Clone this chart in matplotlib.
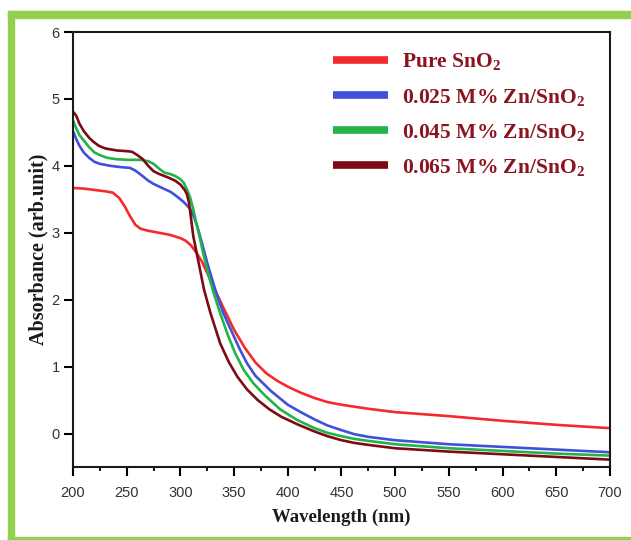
import matplotlib

matplotlib.use("Agg")
import matplotlib.pyplot as plt
from matplotlib.lines import Line2D
from matplotlib.patches import Rectangle
from matplotlib.ticker import MultipleLocator


# UV-vis absorbance spectra of pure and Zn-doped SnO2
wl_pure = [200, 210, 220, 230, 237, 243, 248, 253, 258, 263, 270, 280, 290, 300,
           305, 310, 315, 320, 325, 330, 340, 350, 360, 370, 380, 390, 400, 412,
           425, 437, 450, 475, 500, 550, 600, 650, 700]
abs_pure = [3.67, 3.66, 3.64, 3.62, 3.60, 3.52, 3.40, 3.25, 3.12, 3.06, 3.03, 3.00,
            2.97, 2.92, 2.88, 2.81, 2.70, 2.57, 2.40, 2.22, 1.88, 1.55, 1.28, 1.06,
            0.90, 0.79, 0.70, 0.61, 0.53, 0.47, 0.43, 0.37, 0.32, 0.26, 0.19, 0.13,
            0.08]

wl_025 = [200, 203, 206, 210, 215, 220, 225, 235, 245, 253, 258, 263, 270, 275,
          283, 291, 297, 303, 309, 313, 316, 320, 325, 330, 335, 340, 347, 355,
          362, 370, 384, 400, 412, 425, 437, 450, 462, 475, 500, 550, 600, 650, 700]
abs_025 = [4.52, 4.40, 4.30, 4.20, 4.12, 4.06, 4.03, 4.00, 3.98, 3.97, 3.93, 3.87,
           3.78, 3.73, 3.67, 3.61, 3.54, 3.46, 3.36, 3.22, 3.08, 2.85, 2.55, 2.28,
           2.02, 1.80, 1.55, 1.27, 1.05, 0.86, 0.64, 0.43, 0.32, 0.21, 0.12, 0.05,
           -0.01, -0.05, -0.10, -0.16, -0.20, -0.24, -0.28]

wl_045 = [200, 203, 206, 210, 215, 220, 225, 232, 240, 250, 263, 270, 275, 280,
          285, 290, 295, 300, 303, 306, 309, 312, 314, 318, 322, 326, 331, 337,
          344, 351, 359, 368, 378, 393, 409, 425, 437, 450, 462, 475, 500, 550,
          600, 650, 700]
abs_045 = [4.68, 4.56, 4.46, 4.38, 4.28, 4.20, 4.16, 4.12, 4.10, 4.09, 4.09, 4.07,
           4.03, 3.96, 3.90, 3.88, 3.85, 3.80, 3.75, 3.65, 3.53, 3.35, 3.20, 2.93,
           2.64, 2.38, 2.10, 1.80, 1.48, 1.20, 0.95, 0.75, 0.58, 0.36, 0.20, 0.08,
           0.01, -0.04, -0.08, -0.11, -0.16, -0.22, -0.26, -0.30, -0.33]

wl_065 = [200, 203, 206, 210, 215, 219, 224, 230, 241, 250, 255, 260, 265, 270,
          275, 280, 288, 295, 300, 304, 306, 308, 310, 312, 317, 322, 328, 337,
          345, 353, 362, 372, 383, 394, 410, 425, 437, 450, 462, 475, 500, 550,
          600, 650, 700]
abs_065 = [4.81, 4.75, 4.63, 4.52, 4.42, 4.36, 4.30, 4.26, 4.23, 4.22, 4.21, 4.16,
           4.10, 4.00, 3.92, 3.88, 3.83, 3.78, 3.72, 3.64, 3.58, 3.45, 3.20, 2.95,
           2.55, 2.15, 1.80, 1.35, 1.07, 0.85, 0.66, 0.50, 0.36, 0.25, 0.13, 0.03,
           -0.04, -0.10, -0.14, -0.17, -0.22, -0.27, -0.31, -0.35, -0.39]

labels = ["Pure SnO$_2$", "0.025 M% Zn/SnO$_2$", "0.045 M% Zn/SnO$_2$",
          "0.065 M% Zn/SnO$_2$"]
colors = ["#f42a2e", "#4150d8", "#22b34a", "#7d0a14"]

plt.rcParams.update(
    {
        "font.family": "Liberation Sans",
        "mathtext.fontset": "custom",
        "mathtext.rm": "Liberation Serif:bold",
        "mathtext.it": "Liberation Serif:bold",
        "mathtext.bf": "Liberation Serif:bold",
    }
)

fig = plt.figure(figsize=(6.31, 5.40), dpi=100)
ax = fig.add_axes([0.1157, 0.1352, 0.851, 0.8055])

series = [(wl_pure, abs_pure), (wl_025, abs_025), (wl_045, abs_045), (wl_065, abs_065)]
for (x, y), c in zip(series, colors):
    ax.plot(x, y, color=c, linewidth=1.9, solid_capstyle="round")

ax.set_xlim(200, 700)
ax.set_ylim(-0.5, 6)
ax.xaxis.set_major_locator(MultipleLocator(50))
ax.xaxis.set_minor_locator(MultipleLocator(25))
ax.yaxis.set_major_locator(MultipleLocator(1))

for s in ax.spines.values():
    s.set_linewidth(1.5)
    s.set_color("#1a1a1a")
ax.tick_params(axis="both", which="major", direction="out", length=6.5, width=1.5,
               labelsize=10.5, labelcolor="#333333", pad=3)
ax.tick_params(axis="x", which="major", pad=7.5)
ax.tick_params(axis="x", which="minor", direction="out", length=3, width=1.3)
ax.tick_params(top=False, right=False)

ax.set_xlabel("Wavelength (nm)", family="Liberation Serif", fontweight="bold",
              fontsize=13.5, color="#1a1a1a", labelpad=6)
ax.set_ylabel("Absorbance (arb.unit)", family="Liberation Serif", fontweight="bold",
              fontsize=14.5, color="#1a1a1a", labelpad=2)

handles = [Line2D([], [], color=c, linewidth=5.5, solid_capstyle="butt") for c in colors]
leg = ax.legend(handles, labels, loc="upper left", bbox_to_anchor=(0.448, 1.0),
                frameon=False, handlelength=2.56, handletextpad=0.65, labelspacing=0.66,
                prop={"family": "Liberation Serif", "weight": "bold", "size": 15.5})
for t in leg.get_texts():
    t.set_color("#8a1420")

# light green frame around the panel
frame_color = "#92d050"
fig.patches.append(Rectangle((8 / 631, 1 - 18 / 540), 1, 7 / 540, transform=fig.transFigure,
                             color=frame_color, zorder=0))
fig.patches.append(Rectangle((8 / 631, 0), 6 / 631, 1 - 11 / 540, transform=fig.transFigure,
                             color=frame_color, zorder=0))
fig.patches.append(Rectangle((8 / 631, 0), 1, 3 / 540, transform=fig.transFigure,
                             color=frame_color, zorder=0))

fig.savefig("out.png", dpi=100, facecolor="white")
